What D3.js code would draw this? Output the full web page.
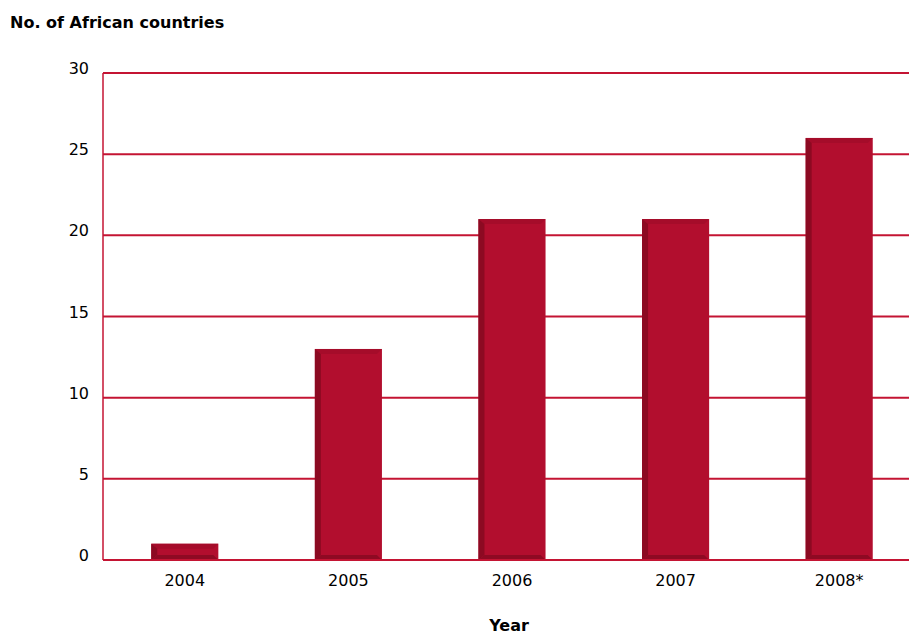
<!DOCTYPE html>
<html>
<head>
<meta charset="utf-8">
<script src="https://cdn.jsdelivr.net/npm/d3@7"></script>
<style>
  body { margin: 0; background: #fff; }
  text { font-family: Verdana, "DejaVu Sans", sans-serif; fill: #000; }
</style>
</head>
<body>
<div id="chart"></div>
<script>
const years = ['2004', '2005', '2006', '2007', '2008*'];
const countries = [1, 13, 21, 21, 26];
const yTicks = [0, 5, 10, 15, 20, 25, 30];

const width = 909, height = 635;
const margin = { top: 73, right: -12, bottom: 75, left: 103 };
const innerH = height - margin.top - margin.bottom;

const svg = d3.select('#chart').append('svg')
  .attr('width', width).attr('height', height);

const x = d3.scaleBand()
  .domain(years)
  .range([margin.left, width - margin.right])
  .paddingInner(0.59)
  .paddingOuter(0.295);

const y = d3.scaleLinear().domain([0, 30]).range([margin.top + innerH, margin.top]);

// gridlines
svg.append('g').selectAll('line')
  .data(yTicks.filter(d => d > 0))
  .join('line')
  .attr('x1', margin.left).attr('x2', width)
  .attr('y1', d => y(d)).attr('y2', d => y(d))
  .attr('stroke', '#c41433').attr('stroke-width', 2);

// y axis labels
svg.append('g').selectAll('text')
  .data(yTicks)
  .join('text')
  .attr('x', 89).attr('y', d => y(d) + 1)
  .attr('text-anchor', 'end')
  .style('font-size', '16px')
  .text(d => d);

// bars with bevel
const bw = x.bandwidth();
const bars = svg.append('g').selectAll('g')
  .data(countries)
  .join('g')
  .attr('transform', (d, i) => `translate(${x(years[i])},${y(d)})`);

bars.append('rect')
  .attr('width', bw).attr('height', d => y(0) - y(d))
  .attr('fill', '#b20e2e');
// top bevel
bars.append('path')
  .attr('d', d => `M0,0H${bw}L${bw - 5},5H6Z`)
  .attr('fill', '#a50c2a');
// left bevel
bars.append('path')
  .attr('d', d => { const h = y(0) - y(d); return `M0,0L6,5V${h - 5}L0,${h}Z`; })
  .attr('fill', '#8c0a22');
// bottom bevel
bars.append('path')
  .attr('d', d => { const h = y(0) - y(d); return `M0,${h}L6,${h - 5}H${bw - 5}L${bw},${h}Z`; })
  .attr('fill', '#8e0a23');

// axes lines
svg.append('line')
  .attr('x1', margin.left).attr('x2', margin.left)
  .attr('y1', y(30)).attr('y2', y(0))
  .attr('stroke', '#c41433').attr('stroke-width', 1.5);
svg.append('line')
  .attr('x1', margin.left).attr('x2', width)
  .attr('y1', y(0)).attr('y2', y(0))
  .attr('stroke', '#c41433').attr('stroke-width', 2);

// x labels
svg.append('g').selectAll('text')
  .data(years)
  .join('text')
  .attr('x', d => x(d) + bw / 2).attr('y', 586)
  .attr('text-anchor', 'middle')
  .style('font-size', '16px')
  .text(d => d);

svg.append('text')
  .attr('x', 10).attr('y', 28)
  .style('font-size', '16px').style('font-weight', 'bold')
  .text('No. of African countries');

svg.append('text')
  .attr('x', 509).attr('y', 631)
  .attr('text-anchor', 'middle')
  .style('font-size', '16px').style('font-weight', 'bold')
  .text('Year');
</script>
</body>
</html>
